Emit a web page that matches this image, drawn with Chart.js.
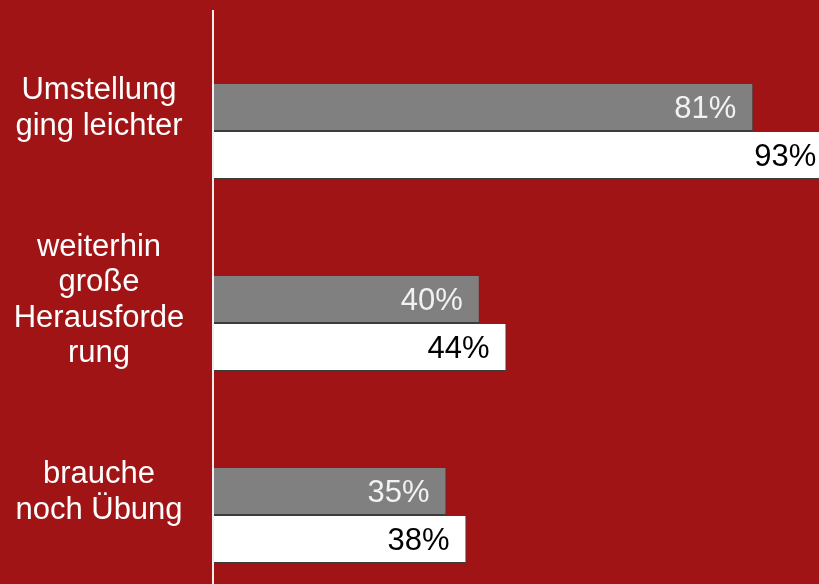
<!DOCTYPE html>
<html>
<head>
<meta charset="utf-8">
<script src="https://cdn.jsdelivr.net/npm/chart.js@4/dist/chart.umd.min.js"></script>
<style>
  html, body { margin: 0; padding: 0; background: #a11415; }
  #wrap { width: 819px; height: 584px; overflow: hidden; position: relative; }
  canvas { display: block; }
</style>
</head>
<body>
<div id="wrap"><canvas id="chart" width="900" height="620"></canvas></div>
<script>
// category labels (already broken into lines like in the original)
const categories = [
    ['Umstellung', 'ging leichter'],
    ['weiterhin', 'große', 'Herausforde', 'rung'],
    ['brauche', 'noch Übung']
];
const grayValues = [81, 40, 35];
const whiteValues = [93, 44, 38];

const FONT = '"Liberation Sans", Arial, sans-serif';

// labels at the end of each bar + the y axis line + the category texts
const decorations = {
    id: 'decorations',
    afterDatasetsDraw(chart) {
        const ctx = chart.ctx;
        ctx.save();
        ctx.font = '31px ' + FONT;
        ctx.textAlign = 'right';
        ctx.textBaseline = 'alphabetic';
        chart.data.datasets.forEach((ds, i) => {
            const meta = chart.getDatasetMeta(i);
            meta.data.forEach((bar, j) => {
                ctx.fillStyle = ds.labelColor;
                ctx.fillText(ds.data[j] + '%', bar.x - 17, bar.y + 11);
            });
        });

        // y axis line
        const area = chart.chartArea;
        ctx.fillStyle = '#f6eeee';
        ctx.fillRect(area.left - 1, 10, 2, 600);

        // category labels, centred a bit above the category middle
        const yScale = chart.scales.y;
        ctx.textAlign = 'center';
        ctx.fillStyle = '#ffffff';
        const lineH = 35.5;
        categories.forEach((lines, i) => {
            const yc = yScale.getPixelForValue(i) - 25;
            lines.forEach((txt, k) => {
                const y = yc + (k - (lines.length - 1) / 2) * lineH;
                ctx.fillText(txt, 99, y + 11);
            });
        });
        ctx.restore();
    }
};

new Chart(document.getElementById('chart'), {
    type: 'bar',
    data: {
        labels: categories,
        datasets: [{
            data: grayValues,
            backgroundColor: '#808080',
            borderColor: '#3c3c3c',
            borderWidth: 1,
            borderSkipped: 'start',
            labelColor: '#f2f2f2',
            categoryPercentage: 0.5,
            barPercentage: 1.0
        }, {
            data: whiteValues,
            backgroundColor: '#ffffff',
            borderColor: '#3c3c3c',
            borderWidth: 1,
            borderSkipped: 'start',
            labelColor: '#000000',
            categoryPercentage: 0.5,
            barPercentage: 1.0
        }]
    },
    options: {
        indexAxis: 'y',
        responsive: false,
        animation: false,
        devicePixelRatio: 1,
        layout: { padding: { left: 213, right: 20, top: 35, bottom: 9 } },
        plugins: {
            legend: { display: false },
            tooltip: { enabled: false }
        },
        scales: {
            x: { min: 0, max: 100, display: false },
            y: { display: false }
        }
    },
    plugins: [decorations]
});
</script>
</body>
</html>
